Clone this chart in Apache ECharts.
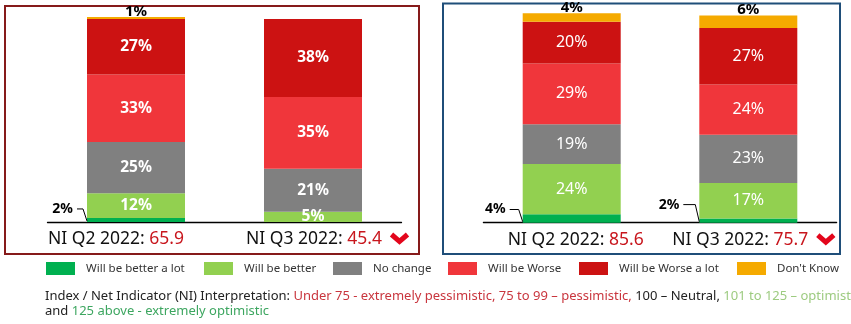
<!DOCTYPE html>
<html>
<head>
<meta charset="utf-8">
<script src="https://cdn.jsdelivr.net/npm/echarts@6/dist/echarts.min.js"></script>
<style>
  html, body { margin: 0; padding: 0; background: #fff; }
  #chart { width: 851px; height: 324px; }
</style>
</head>
<body>
<div id="chart"></div>
<script>
// Survey periods (one bar each) and answer categories (stack segments, bottom to top)
const categories = ['NI Q2 2022', 'NI Q3 2022'];
const seriesNames = ['Will be better a lot', 'Will be better', 'No change', 'Will be Worse', 'Will be Worse a lot', "Don't Know"];

// Left panel: share of answers (%), Q2 then Q3
const leftBetterLot = [2, 0];
const leftBetter    = [12, 5];
const leftNoChange  = [25, 21];
const leftWorse     = [33, 35];
const leftWorseLot  = [27, 38];
const leftDontKnow  = [1, 0];
const leftNI        = [65.9, 45.4];

// Right panel: share of answers (%), Q2 then Q3
const rightBetterLot = [4, 2];
const rightBetter    = [24, 17];
const rightNoChange  = [19, 23];
const rightWorse     = [29, 24];
const rightWorseLot  = [20, 27];
const rightDontKnow  = [4, 6];
const rightNI        = [85.6, 75.7];

const colors = ['#00B050', '#92D050', '#808080', '#F0363B', '#CC1212', '#F5AA00'];
const FONT = '"Noto Sans", "Open Sans", sans-serif';
const BAR_W = 98;

const panels = [
  {
    values: [leftBetterLot, leftBetter, leftNoChange, leftWorse, leftWorseLot, leftDontKnow],
    ni: leftNI, bold: true,
    grid: { left: 47.5, width: 354, top: 17, height: 205 },
    border: { x: 5, y: 6, width: 414, height: 248, stroke: '#861A1A' },
    niOffset: [-88, -67],
    // callout placement for the thin bottom segment: distance left of bar, vertical shift
    callout: [{ distance: 14, dy: -11 }, { distance: 14, dy: -11 }]
  },
  {
    values: [rightBetterLot, rightBetter, rightNoChange, rightWorse, rightWorseLot, rightDontKnow],
    ni: rightNI, bold: false,
    grid: { left: 483.4, width: 353.2, top: 13.3, height: 209.4 },
    border: { x: 443, y: 3.5, width: 397, height: 250.5, stroke: '#1F4E79' },
    niOffset: [-64, -76],
    callout: [{ distance: 17, dy: -9 }, { distance: 20, dy: -16 }]
  }
];

const pct = p => (p.value ? p.value + '%' : '');

function labelFor(k, bold) {
  if (k === 0) {
    return { show: true, position: 'left', color: '#000', fontFamily: FONT, fontWeight: 'bold', fontSize: 14, formatter: pct };
  }
  if (k === 5) {
    return { show: true, position: 'top', distance: -2, color: '#000', fontFamily: FONT, fontWeight: 'bold', fontSize: 15, formatter: pct };
  }
  return {
    show: true, position: 'inside', color: '#fff', fontFamily: FONT,
    fontWeight: bold ? 'bold' : 'normal', fontSize: bold ? 15.5 : 16, formatter: pct
  };
}

const series = [];
panels.forEach((p, pi) => {
  p.values.forEach((arr, k) => {
    series.push({
      type: 'bar',
      name: seriesNames[k],
      xAxisIndex: pi,
      yAxisIndex: pi,
      stack: 'panel' + pi,
      barWidth: BAR_W,
      itemStyle: { color: colors[k] },
      label: labelFor(k, p.bold),
      emphasis: { disabled: true },
      data: arr.map((v, ci) => {
        const item = { value: v };
        if (k === 0) {
          const c = p.callout[ci];
          item.label = { distance: c.distance, offset: [0, c.dy] };
        }
        return item;
      })
    });
  });
});

const legendLeft = [46, 204, 333, 448, 579, 737];
const legends = seriesNames.map((name, i) => ({
  data: [name],
  left: legendLeft[i],
  top: 262,
  padding: 0,
  itemWidth: 29,
  itemHeight: 13,
  icon: 'rect',
  selectedMode: false,
  textStyle: { fontFamily: FONT, fontSize: 11.5, color: '#333', padding: [0, 0, 0, 6] }
}));

const chart = echarts.init(document.getElementById('chart'), null, { renderer: 'canvas' });

chart.setOption({
  animation: false,
  backgroundColor: '#fff',
  legend: legends,
  grid: panels.map(p => Object.assign({ containLabel: false }, p.grid)),
  xAxis: panels.map((p, pi) => ({
    type: 'category',
    gridIndex: pi,
    data: categories,
    axisLine: { lineStyle: { color: '#000', width: 1.3 } },
    axisTick: { show: false },
    axisLabel: { show: false }
  })),
  yAxis: panels.map((p, pi) => ({
    type: 'value', gridIndex: pi, min: 0, max: 100, show: false, splitLine: { show: false }
  })),
  series: series
});

// Annotations placed through the axes: panel frames, callout leaders, NI captions
const measureCtx = document.createElement('canvas').getContext('2d');
const NI_SIZE = 17.5;
measureCtx.font = NI_SIZE + 'px ' + FONT;

const graphics = [];
panels.forEach((p, pi) => {
  graphics.push({
    type: 'rect', z: 0, silent: true,
    shape: { x: p.border.x, y: p.border.y, width: p.border.width, height: p.border.height },
    style: { fill: 'none', stroke: p.border.stroke, lineWidth: 2 }
  });

  const base = chart.convertToPixel({ yAxisIndex: pi }, 0);
  categories.forEach((cat, ci) => {
    const cx = chart.convertToPixel({ xAxisIndex: pi }, cat);
    const barLeft = cx - BAR_W / 2;

    // leader line for the thin "better a lot" segment
    const v = p.values[0][ci];
    if (v) {
      const c = p.callout[ci];
      const midY = chart.convertToPixel({ yAxisIndex: pi }, v / 2);
      const ly = midY + c.dy;
      const lx = barLeft - c.distance;
      graphics.push({
        type: 'polyline', z: 10, silent: true,
        shape: { points: [[lx + 4, ly], [barLeft - 4, ly], [barLeft, base - 1]] },
        style: { stroke: '#000', lineWidth: 1, fill: 'none' }
      });
    }

    // NI caption under each bar
    const label = cat + ': ';
    const value = p.ni[ci].toFixed(1);
    const tx = cx + p.niOffset[ci];
    const ty = base + 17;
    graphics.push({
      type: 'text', z: 10, silent: true,
      x: tx, y: ty,
      style: {
        text: '{k|' + label + '}{v|' + value + '}',
        textAlign: 'left', textVerticalAlign: 'middle',
        rich: {
          k: { fill: '#111', fontSize: NI_SIZE, fontFamily: FONT },
          v: { fill: '#C8161D', fontSize: NI_SIZE, fontFamily: FONT }
        }
      }
    });

    // chevron when the indicator dropped from the previous quarter
    if (ci > 0 && p.ni[ci] < p.ni[ci - 1]) {
      const w = measureCtx.measureText(label + value).width;
      const sx = tx + w + 8;
      graphics.push({
        type: 'polyline', z: 10, silent: true,
        shape: { points: [[sx + 1.5, ty - 4.5], [sx + 9.5, ty + 2.5], [sx + 17.5, ty - 4.5]] },
        style: { stroke: '#E3061C', lineWidth: 5, fill: 'none', lineJoin: 'miter', lineCap: 'butt' }
      });
    }
  });
});

// Interpretation note
graphics.push({
  type: 'text', z: 10, silent: true,
  x: 45, y: 289,
  style: {
    text: '{k|Index / Net Indicator (NI) Interpretation: }{r|Under 75 - extremely pessimistic, 75 to 99 – pessimistic, }{k|100 – Neutral, }{lg|101 to 125 – optimistic}\n{k|and }{g|125 above - extremely optimistic}',
    rich: {
      k:  { fill: '#222', fontSize: 13, fontFamily: FONT, lineHeight: 15 },
      r:  { fill: '#C9363E', fontSize: 13, fontFamily: FONT, lineHeight: 15 },
      lg: { fill: '#9DCB80', fontSize: 13, fontFamily: FONT, lineHeight: 15 },
      g:  { fill: '#3DA660', fontSize: 13, fontFamily: FONT, lineHeight: 15 }
    }
  }
});

chart.setOption({ graphic: graphics });
</script>
</body>
</html>
